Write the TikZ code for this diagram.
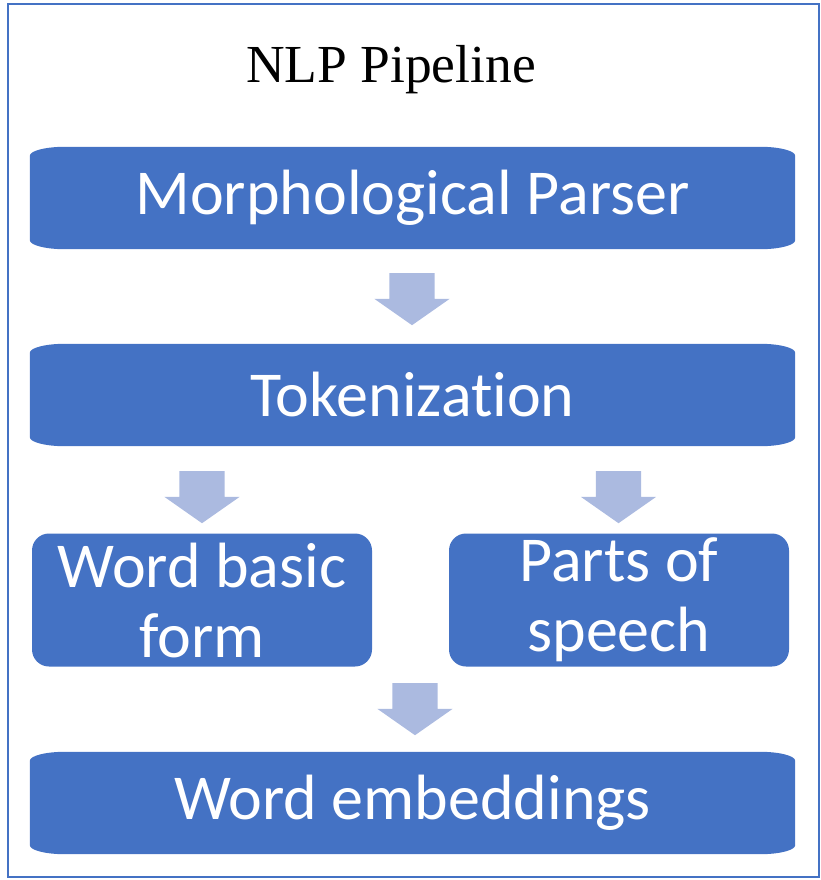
\documentclass[tikz,border=0pt]{standalone}
\usepackage{fontspec}
\setmainfont{Liberation Serif}
\newfontfamily\stagefont[Ligatures=NoCommon]{Carlito}
\usetikzlibrary{shapes.arrows,backgrounds}
\definecolor{boxblue}{HTML}{4472C4}
\definecolor{arrowblue}{HTML}{ABBAE0}
\tikzset{
  stage/.style={text=white, font=\stagefont\fontsize{64}{70}\selectfont, align=center,
    inner sep=0pt, minimum width=765pt, minimum height=102pt},
  halfstage/.style={stage, fill=boxblue, rounded corners=17pt, minimum width=340pt, minimum height=133pt},
  blockarrow/.style={single arrow, fill=arrowblue, rotate=-90, anchor=tail, inner sep=0pt,
    text height=22.5pt, text depth=22.5pt, text width=0pt,
    minimum height=52pt, single arrow head extend=15pt, single arrow tip angle=110},
}
% wide boxes: flat elliptic corners
\newcommand\flatfill[1]{%
  \fill[boxblue] ([xshift=35pt]#1.north west) -- ([xshift=-35pt]#1.north east)
    arc[start angle=90, end angle=0, x radius=35pt, y radius=9pt] -- ([yshift=9pt]#1.south east)
    arc[start angle=0, end angle=-90, x radius=35pt, y radius=9pt] -- ([xshift=35pt]#1.south west)
    arc[start angle=270, end angle=180, x radius=35pt, y radius=9pt] -- ([yshift=-9pt]#1.north west)
    arc[start angle=180, end angle=90, x radius=35pt, y radius=9pt] -- cycle;}
\begin{document}
\begin{tikzpicture}[x=1pt, y=1pt]
  \useasboundingbox (0,0) rectangle (821,-880);
  \draw[boxblue, line width=2pt] (8,-4) rectangle (819,-877);
  \node[anchor=base, font=\fontsize{53.5}{60}\selectfont] (title) at (391,-83) {NLP Pipeline};
  \node[stage] (morph) at (412.5,-198) {Morphological Parser};
  \node[stage] (token) at (412.5,-395) {Tokenization};
  \node[halfstage] (basic) at (202,-600) {Word basic\\form};
  \node[halfstage] (pos) at (619,-600) {Parts of\\speech};
  \node[stage] (embed) at (412.5,-803) {Word embeddings};
  \begin{pgfonlayer}{background}
    \flatfill{morph}
    \flatfill{token}
    \flatfill{embed}
  \end{pgfonlayer}
  \node[blockarrow] (a1) at (412,-273) {};
  \node[blockarrow] (a2) at (202,-471) {};
  \node[blockarrow] (a3) at (618.5,-471) {};
  \node[blockarrow] (a4) at (415,-683) {};
\end{tikzpicture}
\end{document}
